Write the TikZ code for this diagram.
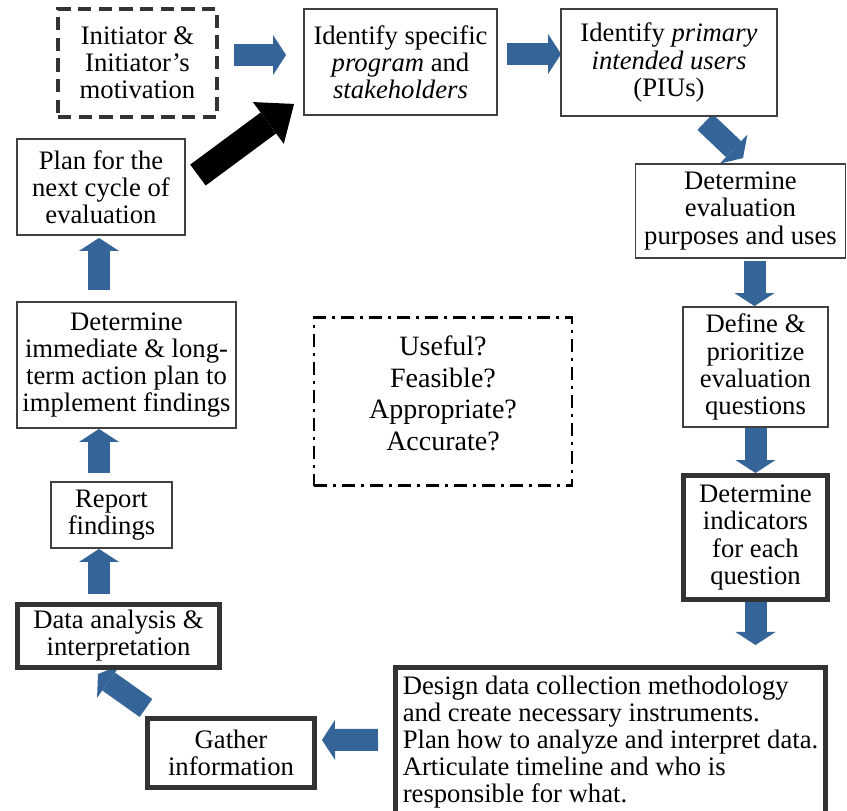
\documentclass[tikz,border=0pt]{standalone}
\usepackage{fontspec}
\setmainfont{Liberation Serif}
\usepackage{xcolor}
\usepackage{tikz}
\usetikzlibrary{arrows.meta,calc,backgrounds}
\definecolor{evalRule}{HTML}{404040}
\definecolor{evalKey}{HTML}{333333}
\definecolor{evalFlow}{HTML}{356598}

\begin{document}
\begin{tikzpicture}[
  x=0.75pt,y=-0.75pt,
  font=\fontsize{20}{20.3}\selectfont,
  stage/.style={draw=evalRule,line width=1.4pt,fill=white,align=center,inner sep=0pt},
  keystage/.style={stage,draw=evalKey,line width=3.75pt},
  startstage/.style={stage,draw=evalKey,line width=2.5pt,dash pattern=on 10pt off 5.5pt},
  flow/.style={draw=evalFlow,line width=16.5pt,
               -{Triangle[length=9.75pt,width=30pt,line width=0pt]}},
  restart/.style={draw=black,line width=19.5pt,
                  -{Triangle[length=24pt,width=39pt,line width=0pt]}}
]
\useasboundingbox (0,0) rectangle (847,811);

% Top row
\node[startstage,minimum width=119.25pt,minimum height=81pt] (init) at (137.5,63)
  {Initiator \&\\Initiator's\\motivation};
\node[stage,minimum width=144.75pt,minimum height=79.5pt] (ident) at (400.5,62)
  {Identify specific\\\textit{program} and\\\textit{stakeholders}};
\node[stage,minimum width=162pt,minimum height=80.25pt] (pius) at (669,62.5)
  {Identify \textit{primary}\\\textit{intended users}\\(PIUs)};

% Right column
\node[stage,minimum width=157.5pt,minimum height=70.5pt] (purp) at (740.5,211)
  {Determine\\evaluation\\purposes and uses};
\node[stage,minimum width=108.75pt,minimum height=90pt] (define) at (755.5,367)
  {Define \&\\prioritize\\evaluation\\questions};
\node[keystage,minimum width=108pt,minimum height=93pt] (indic) at (755.5,537.5)
  {Determine\\indicators\\for each\\question};

% Bottom row
\node[keystage,align=left,minimum width=322.5pt,minimum height=111.4pt] (design) at (610.5,741.75)
  {Design data collection methodology\\and create necessary instruments.\\Plan how to analyze and interpret data.\\Articulate timeline and who is\\responsible for what.};
\node[keystage,minimum width=125.25pt,minimum height=51.75pt] (gather) at (231,753)
  {Gather\\information};

% Left column
\node[keystage,minimum width=151.5pt,minimum height=47.25pt] (data) at (118.5,636)
  {Data analysis \&\\interpretation};
\node[stage,minimum width=90.75pt,minimum height=49.5pt] (report) at (111.5,515)
  {Report\\findings};
\node[stage,minimum width=164.25pt,minimum height=94.5pt] (immed) at (126.5,365)
  {Determine\\immediate \& long-\\term action plan to\\implement findings};
\node[stage,minimum width=126pt,minimum height=72pt] (plan) at (101,187)
  {Plan for the\\next cycle of\\evaluation};

% Standards in the middle
\node[draw=black,line width=1.9pt,dash pattern=on 9.75pt off 4.5pt on 2.25pt off 4.5pt,
      inner sep=0pt,minimum width=193.5pt,minimum height=126pt] (qual) at (443,401.5) {};
\node[align=center,font=\fontsize{21}{23.6}\selectfont] (qualtext) at ($(qual.center)+(0,-8)$)
  {Useful?\\Feasible?\\Appropriate?\\Accurate?};

% Arrows
\begin{scope}[on background layer]
\draw[flow] ($(init.east)+(15,-8)$) -- ($(ident.west)+(-17,-7)$);
\draw[flow] ($(ident.east)+(9,-8)$) -- ($(pius.west)+(1,-8.5)$);
\draw[flow] ($(pius.south)+(36,5)$) -- ($(purp.north)+(2.5,-5)$);
\draw[flow] ($(purp.south)+(14,2)$) -- ($(define.north)+(-1,0)$);
\draw[flow] (define.south) -- (indic.north);
\draw[flow] (indic.south) -- ($(indic.south |- design.north)+(0,-20)$);
\draw[flow] ($(design.west)+(-15,-2)$) -- ($(gather.east)+(5,-13)$);
\draw[flow] ($(gather.north west)+(1,-8)$) -- ($(data.south)+(-20.5,4)$);
\draw[flow] ($(data.north)+(-19.5,-8)$) -- ($(report.south)+(-12.5,0)$);
\draw[flow] ($(report.north)+(-12.5,-8)$) -- ($(immed.south)+(-27.5,0)$);
\draw[flow] ($(immed.north)+(-27.5,-11)$) -- ($(plan.south)+(-2,2)$);
\draw[restart] ($(plan.north east)+(12,37)$) -- ($(ident.south west)+(-9,-12)$);
\end{scope}
\end{tikzpicture}
\end{document}
